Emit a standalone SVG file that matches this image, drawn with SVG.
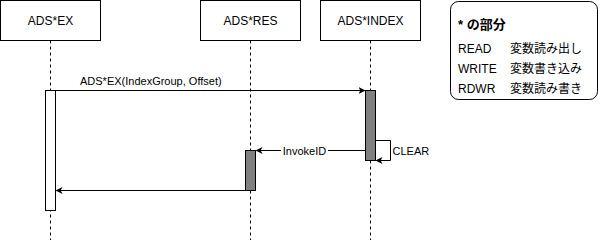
<svg xmlns="http://www.w3.org/2000/svg" width="601" height="242" viewBox="0 0 601 242">
  <style>
    .box { fill: #ffffff; stroke: #000000; stroke-width: 1; }
    .life { fill: none; stroke: #000000; stroke-width: 1; stroke-dasharray: 3 3; }
    .act-white { fill: #ffffff; stroke: #000000; stroke-width: 1; }
    .act-grey { fill: #808080; stroke: #000000; stroke-width: 1; }
    .msg { fill: none; stroke: #000000; stroke-width: 1; marker-end: url(#arrow); }
    .lbl { font-family: "Liberation Sans", Arial, sans-serif; font-size: 12px; fill: #000000; }
    .small { font-family: "Liberation Sans", Arial, sans-serif; font-size: 11px; fill: #000000; }
    .jp { font-family: "Liberation Sans", "Noto Sans CJK JP", sans-serif; font-size: 12px; fill: #000000; }
    .jp-b { font-family: "Liberation Sans", "Noto Sans CJK JP", sans-serif; font-size: 13px; font-weight: bold; fill: #000000; }
  </style>
  <defs>
    <marker id="arrow" markerWidth="8" markerHeight="8" refX="7" refY="3.5" orient="auto" markerUnits="userSpaceOnUse">
      <path d="M0,0 L7,3.5 L0,7 L1.8,3.5 Z" fill="#000000"/>
    </marker>
  </defs>

  <!-- lifelines -->
  <g id="lifelines">
    <line class="life" x1="50.5" y1="40.5" x2="50.5" y2="240"/>
    <line class="life" x1="250.5" y1="40.5" x2="250.5" y2="240"/>
    <line class="life" x1="370.5" y1="40.5" x2="370.5" y2="240"/>
  </g>

  <!-- participants -->
  <g id="ads-ex">
    <rect class="box" x="0.5" y="0.5" width="100" height="40"/>
    <text class="lbl" x="50.5" y="24.5" text-anchor="middle">ADS*EX</text>
  </g>
  <g id="ads-res">
    <rect class="box" x="200.5" y="0.5" width="100" height="40"/>
    <text class="lbl" x="250.5" y="24.5" text-anchor="middle">ADS*RES</text>
  </g>
  <g id="ads-index">
    <rect class="box" x="320.5" y="0.5" width="100" height="40"/>
    <text class="lbl" x="370.5" y="24.5" text-anchor="middle">ADS*INDEX</text>
  </g>

  <!-- activations -->
  <g id="act-ex">
    <rect class="act-white" x="45.5" y="90.5" width="10" height="120"/>
  </g>
  <g id="act-index">
    <rect class="act-grey" x="365.5" y="90.5" width="10" height="70"/>
  </g>
  <g id="act-res">
    <rect class="act-grey" x="245.5" y="150.5" width="10" height="40"/>
  </g>

  <!-- messages -->
  <g id="connectors">
    <path class="msg" d="M55.5,90.5 L365.5,90.5"/>
    <text class="small" x="80" y="84.5">ADS*EX(IndexGroup, Offset)</text>

    <path class="msg" d="M375.5,140.5 L390.5,140.5 L390.5,160.5 L375.5,160.5"/>
    <text class="small" x="392.5" y="155">CLEAR</text>

    <path class="msg" d="M365.5,150.5 L255.5,150.5"/>
    <rect x="281" y="144" width="47" height="13" fill="#ffffff"/>
    <text class="small" x="304.5" y="154.5" text-anchor="middle">InvokeID</text>

    <path class="msg" d="M245.5,190.5 L55.5,190.5"/>
  </g>

  <!-- legend -->
  <g id="legend">
    <rect class="box" x="450.5" y="1.5" width="147" height="98" rx="8" ry="8"/>
    <text class="jp-b" x="458" y="29">* の部分</text>
    <text class="jp" x="458" y="53">READ</text>
    <text class="jp" x="510" y="53">変数読み出し</text>
    <text class="jp" x="458" y="73">WRITE</text>
    <text class="jp" x="510" y="73">変数書き込み</text>
    <text class="jp" x="458" y="93">RDWR</text>
    <text class="jp" x="510" y="93">変数読み書き</text>
  </g>
</svg>
